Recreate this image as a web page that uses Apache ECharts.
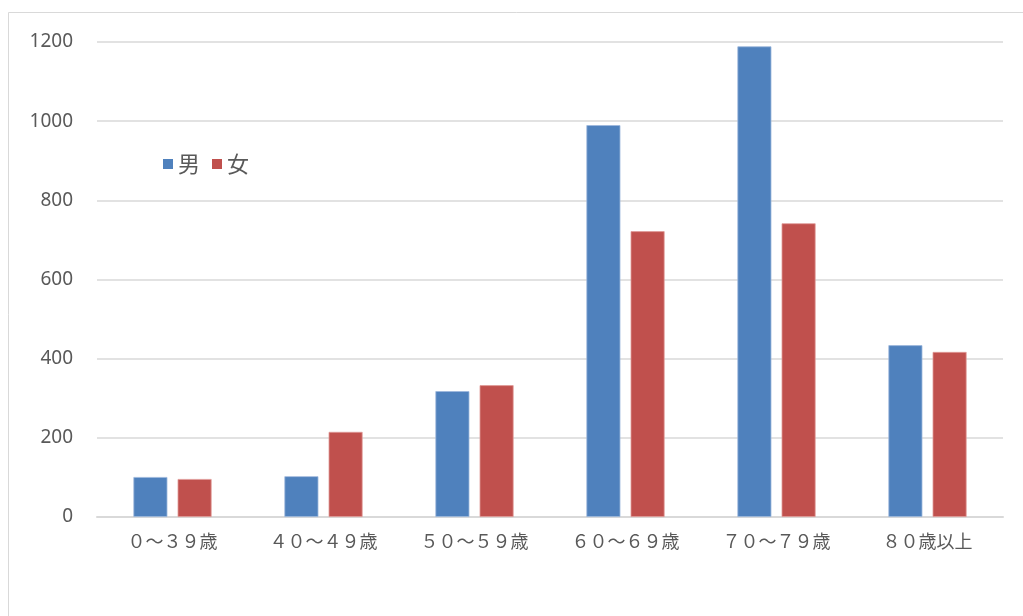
<!DOCTYPE html>
<html><head><meta charset="utf-8">
<script src="https://cdn.jsdelivr.net/npm/echarts@6/dist/echarts.min.js"></script>
<style>html,body{margin:0;padding:0;background:#fff}#c{width:1023px;height:616px}</style>
</head><body><div id="c"></div>
<script>
const categories = ['０～３９歳','４０～４９歳','５０～５９歳','６０～６９歳','７０～７９歳','８０歳以上'];
const male = [101, 103, 318, 990, 1189, 434];
const female = [96, 215, 333, 722, 742, 417];
const yTicks = {min: 0, max: 1200, interval: 200};

const chart = echarts.init(document.getElementById('c'));
chart.setOption({
  animation: false,
  backgroundColor: '#fff',
  graphic: [{type:'rect', shape:{x:8.5,y:12.5,width:1100,height:700}, style:{fill:'none', stroke:'#d9d9d9', lineWidth:1}}],
  legend: {
    left: 158, top: 148, itemWidth: 10, itemHeight: 10, itemGap: 12,
    icon: 'rect',
    itemStyle: {borderWidth: 0},
    textStyle: {fontSize: 22, color: '#595959', fontFamily: 'Noto Sans CJK JP', padding:[0,0,0,0]},
    data: ['男','女']
  },
  grid: {left: 97, right: 20, top: 42, bottom: 99},
  xAxis: {
    type: 'category', data: categories,
    axisLine: {lineStyle: {color: '#d9d9d9', width: 2}},
    axisTick: {show: false},
    axisLabel: {fontSize: 18, color: '#595959', margin: 15, fontFamily: 'Noto Sans CJK JP'}
  },
  yAxis: {
    type: 'value', min: yTicks.min, max: yTicks.max, interval: yTicks.interval,
    axisLine: {show: false}, axisTick: {show: false},
    splitLine: {lineStyle: {color: '#d9d9d9', width: 1.5}},
    axisLabel: {fontSize: 19, color: '#595959', margin: 24, fontFamily: 'Noto Sans',
      formatter: function (v) { return String(v); }}
  },
  series: [
    {name: '男', type: 'bar', data: male, barWidth: 34, barGap: '30%',
     itemStyle: {color: '#4F81BD', borderColor: '#9db8dc', borderWidth: 0.8}},
    {name: '女', type: 'bar', data: female, barWidth: 34, barGap: '30%',
     itemStyle: {color: '#C0504D', borderColor: '#e09a98', borderWidth: 0.8}}
  ]
});
</script></body></html>
